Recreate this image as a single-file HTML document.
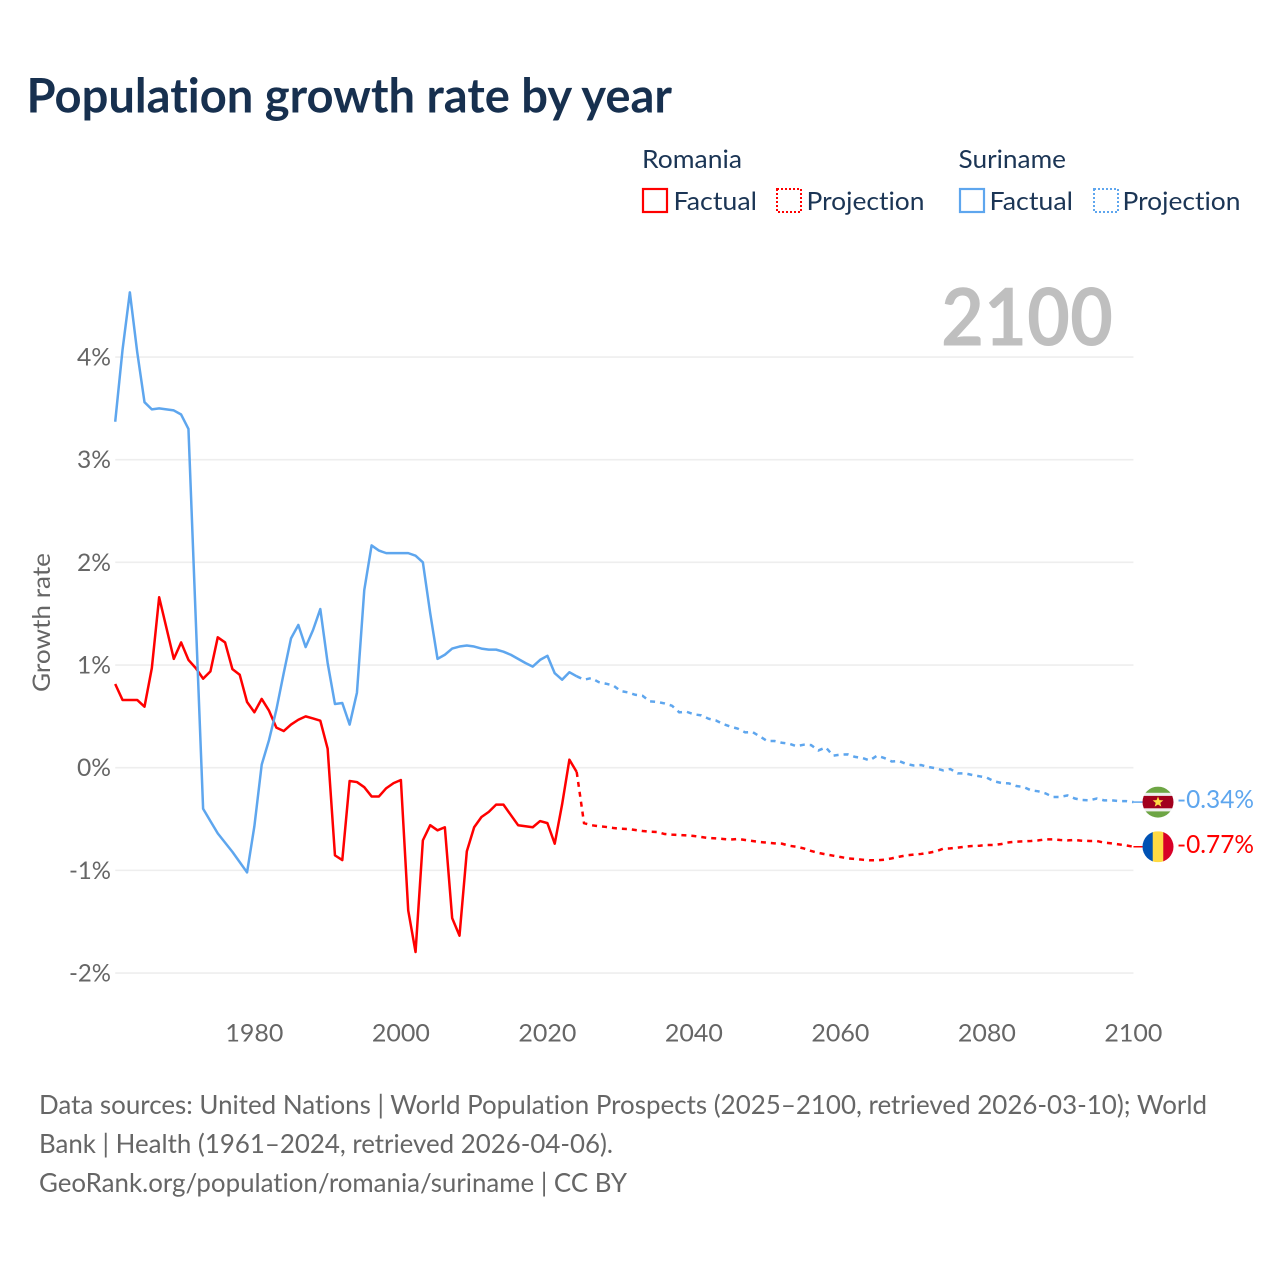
<!DOCTYPE html>
<html lang="en">
<head>
<meta charset="utf-8">
<title>Population growth rate by year</title>
<style>
html,body{margin:0;padding:0;background:#fff;}
svg{display:block;}
text{font-family:"Lato","Carlito","Liberation Sans",sans-serif;font-variant-ligatures:none;}
</style>
</head>
<body>
<svg id="chart" xmlns="http://www.w3.org/2000/svg" width="1280" height="1280" viewBox="0 0 1280 1280">
  <rect x="0" y="0" width="1280" height="1280" fill="#ffffff"/>
  <text x="26.5" y="112.5" font-size="48" font-weight="700" fill="#17304f" textLength="645.5" lengthAdjust="spacingAndGlyphs">Population growth rate by year</text>

  <g font-size="25.5" fill="#1b3555">
    <text x="642" y="168" textLength="100" lengthAdjust="spacingAndGlyphs">Romania</text>
    <text x="958.5" y="168" textLength="107.5" lengthAdjust="spacingAndGlyphs">Suriname</text>
    <g>
      <rect x="643" y="189" width="24" height="23" fill="none" stroke="#ff0000" stroke-width="2.2"/>
      <text x="673.5" y="210" textLength="83.5" lengthAdjust="spacingAndGlyphs">Factual</text>
    </g>
    <g>
      <rect x="777" y="189" width="24" height="23" fill="none" stroke="#ff0000" stroke-width="2" stroke-dasharray="2 2"/>
      <text x="806.5" y="210" textLength="118" lengthAdjust="spacingAndGlyphs">Projection</text>
    </g>
    <g>
      <rect x="960" y="189" width="24" height="23" fill="none" stroke="#5ea6ee" stroke-width="2.2"/>
      <text x="989.5" y="210" textLength="83.5" lengthAdjust="spacingAndGlyphs">Factual</text>
    </g>
    <g>
      <rect x="1094" y="189" width="24" height="23" fill="none" stroke="#5ea6ee" stroke-width="2" stroke-dasharray="2 2"/>
      <text x="1122.5" y="210" textLength="118" lengthAdjust="spacingAndGlyphs">Projection</text>
    </g>
  </g>

  <g id="grid"></g>
  <text x="941" y="345.5" font-size="80" font-weight="700" fill="#bfbfbf" textLength="172" lengthAdjust="spacingAndGlyphs">2100</text>
  <g id="yticks" font-size="24.5" fill="#666666" text-anchor="end"></g>
  <g id="xticks" font-size="24.5" fill="#666666" text-anchor="middle"></g>
  <text transform="translate(50,622.5) rotate(-90)" font-size="24.5" fill="#666666" text-anchor="middle" textLength="139" lengthAdjust="spacingAndGlyphs">Growth rate</text>
  <g id="lines"></g>
  <g id="ends"></g>

  <g font-size="26" fill="#666666">
    <text x="39" y="1114" textLength="1168" lengthAdjust="spacingAndGlyphs">Data sources: United Nations | World Population Prospects (2025–2100, retrieved 2026-03-10); World</text>
    <text x="39" y="1153" textLength="574" lengthAdjust="spacingAndGlyphs">Bank | Health (1961–2024, retrieved 2026-04-06).</text>
    <text x="39" y="1192" textLength="588" lengthAdjust="spacingAndGlyphs">GeoRank.org/population/romania/suriname | CC BY</text>
  </g>
</svg>

<script>
const firstYear = 1961;
const yTickValues = [4, 3, 2, 1, 0, -1, -2];
const yTickLabels = ["4%", "3%", "2%", "1%", "0%", "-1%", "-2%"];
const xTickValues = [1980, 2000, 2020, 2040, 2060, 2080, 2100];
const xTickLabels = ["1980", "2000", "2020", "2040", "2060", "2080", "2100"];
const romaniaEndLabel = "-0.77%";
const surinameEndLabel = "-0.34%";

const romaniaFactual = [
  0.815, 0.66, 0.66, 0.66, 0.594, 0.97, 1.66, 1.36, 1.06, 1.22,
  1.05, 0.97, 0.867, 0.938, 1.27, 1.22, 0.96, 0.905, 0.64, 0.54,
  0.67, 0.555, 0.39, 0.357, 0.42, 0.467, 0.50, 0.48, 0.458, 0.185,
  -0.854, -0.90, -0.13, -0.14, -0.19, -0.28, -0.28, -0.20, -0.15, -0.12,
  -1.39, -1.795, -0.708, -0.56, -0.61, -0.58, -1.465, -1.636, -0.815, -0.58,
  -0.48, -0.43, -0.36, -0.36, -0.46, -0.56, -0.57, -0.58, -0.52, -0.54,
  -0.74, -0.36, 0.078, -0.042
];
const romaniaProjection = [
  -0.54, -0.56, -0.57, -0.577, -0.587, -0.594, -0.597, -0.607, -0.617, -0.623,
  -0.626, -0.646, -0.652, -0.655, -0.659, -0.665, -0.675, -0.685, -0.688, -0.694,
  -0.70, -0.694, -0.704, -0.714, -0.724, -0.73, -0.737, -0.74, -0.76, -0.77,
  -0.786, -0.811, -0.83, -0.844, -0.857, -0.87, -0.883, -0.889, -0.896, -0.902,
  -0.902, -0.896, -0.883, -0.867, -0.854, -0.847, -0.84, -0.83, -0.815, -0.79,
  -0.786, -0.779, -0.769, -0.763, -0.76, -0.753, -0.753, -0.743, -0.727, -0.72,
  -0.717, -0.714, -0.708, -0.698, -0.698, -0.704, -0.708, -0.704, -0.711, -0.714,
  -0.714, -0.73, -0.737, -0.747, -0.757, -0.77
];
const surinameFactual = [
  3.37, 4.07, 4.63, 4.05, 3.56, 3.49, 3.50, 3.49, 3.48, 3.44,
  3.30, 1.44, -0.40, -0.52, -0.64, -0.73, -0.82, -0.92, -1.02, -0.57,
  0.03, 0.27, 0.565, 0.92, 1.26, 1.39, 1.175, 1.34, 1.545, 1.02,
  0.62, 0.63, 0.42, 0.73, 1.73, 2.165, 2.115, 2.09, 2.09, 2.09,
  2.09, 2.065, 2.00, 1.505, 1.06, 1.10, 1.16, 1.18, 1.19, 1.18,
  1.16, 1.15, 1.15, 1.13, 1.10, 1.06, 1.02, 0.985, 1.05, 1.09,
  0.92, 0.857, 0.93, 0.89
];
const surinameProjection = [
  0.857, 0.873, 0.834, 0.818, 0.80, 0.747, 0.733, 0.71, 0.70, 0.646,
  0.64, 0.626, 0.604, 0.539, 0.545, 0.52, 0.51, 0.477, 0.46, 0.425,
  0.40, 0.38, 0.344, 0.347, 0.305, 0.26, 0.26, 0.243, 0.234, 0.21,
  0.224, 0.22, 0.168, 0.198, 0.117, 0.127, 0.13, 0.105, 0.094, 0.071,
  0.117, 0.094, 0.061, 0.065, 0.036, 0.022, 0.026, 0.007, -0.006, -0.026,
  -0.013, -0.055, -0.055, -0.071, -0.084, -0.097, -0.133, -0.149, -0.153, -0.178,
  -0.188, -0.22, -0.23, -0.25, -0.285, -0.285, -0.27, -0.30, -0.315, -0.318,
  -0.30, -0.318, -0.318, -0.325, -0.325, -0.335
];

const SVG_NS = "http://www.w3.org/2000/svg";
const RED = "#ff0000";
const BLUE = "#5ea6ee";

function xScale(year) { return 115.2 + (year - 1961) * 7.3255; }
function yScale(value) { return 767.7 - value * 102.67; }
function make(tag, parent) {
  const node = document.createElementNS(SVG_NS, tag);
  parent.appendChild(node);
  return node;
}
function linePath(startYear, values) {
  return values.map(function (v, i) {
    return (i ? "L" : "M") + xScale(startYear + i).toFixed(2) + " " + yScale(v).toFixed(2);
  }).join(" ");
}

const gridGroup = document.getElementById("grid");
const yTickGroup = document.getElementById("yticks");
yTickValues.forEach(function (v, i) {
  const gridLine = make("line", gridGroup);
  
  
  gridLine.setAttribute("x1", xScale(firstYear));
  gridLine.setAttribute("x2", xScale(2100));
  gridLine.setAttribute("y1", yScale(v));
  gridLine.setAttribute("y2", yScale(v));
  gridLine.setAttribute("stroke", "#eeeeee");
  gridLine.setAttribute("stroke-width", "1.6");
  const label = make("text", yTickGroup);
  
  
  label.setAttribute("x", 111);
  label.setAttribute("y", yScale(v) + 8.5);
  label.setAttribute("textLength", yTickLabels[i].length === 3 ? 42 : 34);
  label.setAttribute("lengthAdjust", "spacingAndGlyphs");
  label.textContent = yTickLabels[i];
});

const xTickGroup = document.getElementById("xticks");
xTickValues.forEach(function (year, i) {
  const label = make("text", xTickGroup);
  
  
  label.setAttribute("x", xScale(year));
  label.setAttribute("y", 1041.3);
  label.setAttribute("textLength", 58);
  label.setAttribute("lengthAdjust", "spacingAndGlyphs");
  label.textContent = xTickLabels[i];
});

const lineGroup = document.getElementById("lines");
function drawSeries(seriesName, color, factual, projection) {
  const solid = make("path", lineGroup);
  
  
  solid.setAttribute("d", linePath(firstYear, factual));
  solid.setAttribute("fill", "none");
  solid.setAttribute("stroke", color);
  solid.setAttribute("stroke-width", "2.5");
  solid.setAttribute("stroke-linejoin", "round");
  const dashed = make("path", lineGroup);
  
  
  dashed.setAttribute("d", linePath(firstYear + factual.length - 1, [factual[factual.length - 1]].concat(projection)));
  dashed.setAttribute("fill", "none");
  dashed.setAttribute("stroke", color);
  dashed.setAttribute("stroke-width", "2.5");
  dashed.setAttribute("stroke-dasharray", "5 5");
}
drawSeries("romania", RED, romaniaFactual, romaniaProjection);
drawSeries("suriname", BLUE, surinameFactual, surinameProjection);

const endGroup = document.getElementById("ends");
const flagStripes = {
  suriname: [[0, 0.2, "#6da544"], [0.2, 0.1, "#eeeeee"], [0.3, 0.4, "#a2001d"], [0.7, 0.1, "#eeeeee"], [0.8, 0.2, "#6da544"]],
  romania: []
};
function drawEnd(seriesName, color, lastValue, endLabel, clipId) {
  const cx = 1158, r = 15.5, cy = yScale(lastValue);
  const leader = make("line", endGroup);
  
  
  leader.setAttribute("x1", xScale(2100));
  leader.setAttribute("x2", cx - r);
  leader.setAttribute("y1", cy);
  leader.setAttribute("y2", cy);
  leader.setAttribute("stroke", color);
  leader.setAttribute("stroke-width", "1.5");
  const clip = make("clipPath", endGroup);
  clip.setAttribute("id", clipId);
  const clipCircle = make("circle", clip);
  clipCircle.setAttribute("cx", cx);
  clipCircle.setAttribute("cy", cy);
  clipCircle.setAttribute("r", r);
  const flag = make("g", endGroup);
  
  
  flag.setAttribute("clip-path", "url(#" + clipId + ")");
  if (seriesName === "suriname") {
    flagStripes.suriname.forEach(function (s) {
      const stripe = make("rect", flag);
      stripe.setAttribute("x", cx - r);
      stripe.setAttribute("y", cy - r + s[0] * 2 * r);
      stripe.setAttribute("width", 2 * r);
      stripe.setAttribute("height", s[1] * 2 * r + 0.3);
      stripe.setAttribute("fill", s[2]);
    });
    const star = make("polygon", flag);
    const pts = [];
    for (let k = 0; k < 10; k++) {
      const rad = k % 2 ? 2.4 : 5.6;
      const ang = -Math.PI / 2 + k * Math.PI / 5;
      pts.push((cx + rad * Math.cos(ang)).toFixed(2) + "," + (cy + rad * Math.sin(ang)).toFixed(2));
    }
    star.setAttribute("points", pts.join(" "));
    star.setAttribute("fill", "#ffda44");
  } else {
    const blue = make("rect", flag);
    blue.setAttribute("x", cx - r);
    blue.setAttribute("y", cy - r);
    blue.setAttribute("width", r * 0.68);
    blue.setAttribute("height", 2 * r);
    blue.setAttribute("fill", "#0052b4");
    const yellow = make("rect", flag);
    yellow.setAttribute("x", cx - r + r * 0.66);
    yellow.setAttribute("y", cy - r);
    yellow.setAttribute("width", r * 0.7);
    yellow.setAttribute("height", 2 * r);
    yellow.setAttribute("fill", "#ffda44");
    const red = make("rect", flag);
    red.setAttribute("x", cx + r * 0.34);
    red.setAttribute("y", cy - r);
    red.setAttribute("width", r * 0.66);
    red.setAttribute("height", 2 * r);
    red.setAttribute("fill", "#d80027");
  }
  const label = make("text", endGroup);
  
  
  label.setAttribute("x", 1177);
  label.setAttribute("y", cy + 6);
  label.setAttribute("font-size", "25.5");
  label.setAttribute("fill", color);
  label.setAttribute("textLength", 77);
  label.setAttribute("lengthAdjust", "spacingAndGlyphs");
  label.textContent = endLabel;
}
drawEnd("suriname", BLUE, surinameProjection[surinameProjection.length - 1], surinameEndLabel, "clip-suriname");
drawEnd("romania", RED, romaniaProjection[romaniaProjection.length - 1], romaniaEndLabel, "clip-romania");
</script>
</body>
</html>
